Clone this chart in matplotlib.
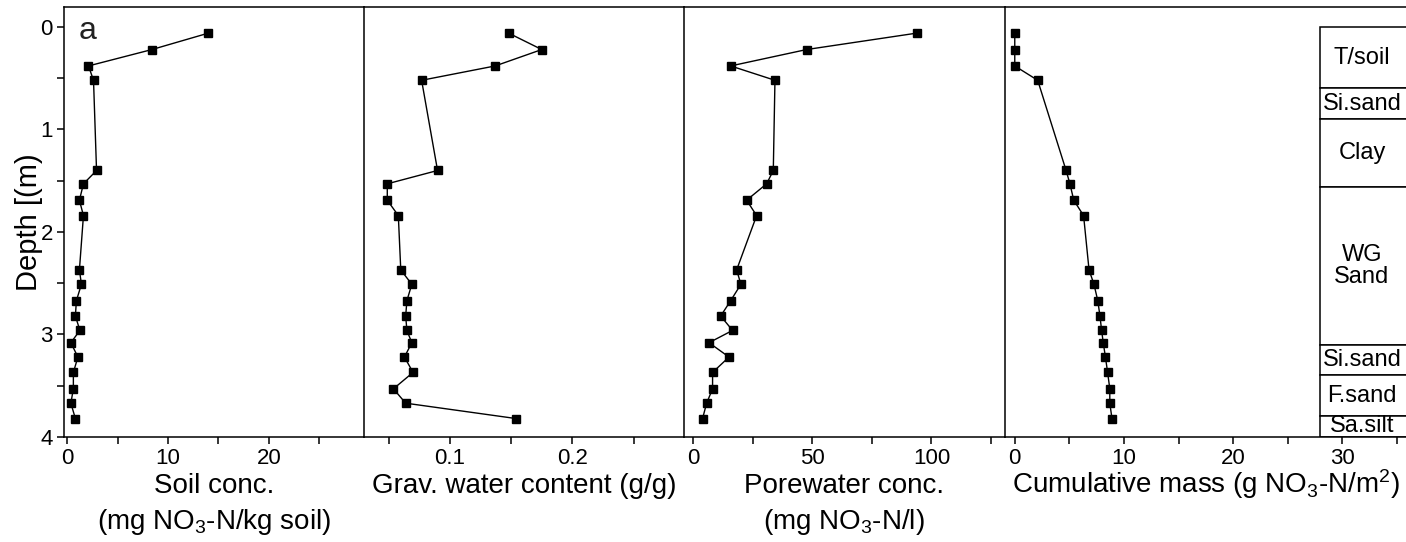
import matplotlib
matplotlib.use('Agg')
import matplotlib.pyplot as plt
from matplotlib.ticker import MultipleLocator, FuncFormatter
from matplotlib.patches import Rectangle

# ---- data ----
depth = [0.06, 0.22, 0.38, 0.52, 1.40, 1.53, 1.69, 1.84, 2.37, 2.51,
         2.67, 2.82, 2.96, 3.08, 3.22, 3.37, 3.53, 3.67, 3.82]
soil_conc = [14.0, 8.4, 2.1, 2.6, 2.9, 1.6, 1.2, 1.6, 1.2, 1.4,
             0.9, 0.8, 1.25, 0.35, 1.05, 0.6, 0.6, 0.35, 0.8]
grav_water = [0.148, 0.175, 0.137, 0.077, 0.090, 0.049, 0.049, 0.058, 0.060, 0.069,
              0.065, 0.064, 0.065, 0.069, 0.063, 0.070, 0.054, 0.064, 0.154]
porewater_conc = [93.8, 47.6, 15.7, 34.3, 33.6, 30.8, 22.4, 26.6, 18.2, 20.0,
                  15.7, 11.5, 16.5, 6.6, 15.0, 8.1, 8.1, 5.6, 3.9]
cum_mass = [0.0, 0.0, 0.0, 2.1, 4.7, 5.05, 5.4, 6.3, 6.8, 7.25,
            7.6, 7.8, 7.95, 8.1, 8.3, 8.5, 8.7, 8.7, 8.9]

layer_bounds = [0.0, 0.6, 0.9, 1.56, 3.1, 3.4, 3.8, 4.0]
layer_names = ['T/soil', 'Si.sand', 'Clay', 'WG\nSand', 'Si.sand', 'F.sand', 'Sa.silt']

xlabels = ['Soil conc.\n(mg NO$_3$-N/kg soil)',
           'Grav. water content (g/g)',
           'Porewater conc.\n(mg NO$_3$-N/l)',
           'Cumulative mass (g NO$_3$-N/m$^2$)']
series = [soil_conc, grav_water, porewater_conc, cum_mass]
xlims = [(-0.33, 29.4), (0.0296, 0.291), (-3.9, 130.7), (-0.94, 36.0)]
major = [10, 0.1, 50, 10]
minor = [5, 0.05, 25, 5]

plt.rcParams['font.family'] = ['Liberation Sans', 'DejaVu Sans']
plt.rcParams['mathtext.default'] = 'regular'

W, H = 1406, 542
fig = plt.figure(figsize=(W / 100, H / 100), dpi=100)

edges = [64, 363.5, 684, 1004.5, 1408]
bottom = 1 - 437 / H
height = (437 - 7) / H
lw = 1.1

axes = []
for i in range(4):
    ax = fig.add_axes([edges[i] / W, bottom, (edges[i + 1] - edges[i]) / W, height])
    axes.append(ax)
    ax.plot(series[i], depth, color='black', lw=1.0, marker='s', ms=6,
            mfc='black', mec='black', clip_on=False, zorder=3)
    ax.set_xlim(*xlims[i])
    ax.set_ylim(4.0, -0.195)
    ax.xaxis.set_major_locator(MultipleLocator(major[i]))
    ax.xaxis.set_minor_locator(MultipleLocator(minor[i]))
    ax.yaxis.set_major_locator(MultipleLocator(1))
    ax.yaxis.set_minor_locator(MultipleLocator(0.5))
    ax.tick_params(axis='both', which='both', direction='out', length=5,
                   width=lw, labelsize=16, pad=3)
    ax.spines['right'].set_visible(False)
    for s in ('left', 'top', 'bottom'):
        ax.spines[s].set_linewidth(lw)
    lab = ax.set_xlabel(xlabels[i], fontsize=20, linespacing=1.35)
    nlines = xlabels[i].count('\n')
    # baseline of the last line (first line baseline at y=493 px)
    ax.xaxis.set_label_coords(0.5, (437 - 493 - 36 * nlines) / 430)
    lab.set_verticalalignment('baseline')
    if i > 0:
        ax.tick_params(axis='y', which='both', left=False, labelleft=False)

axes[2].xaxis.set_major_formatter(FuncFormatter(lambda v, p: f'{v:.0f}'))
axes[0].set_ylabel('Depth [(m)', fontsize=21, labelpad=-2)
axes[0].text(0.05, 0.978, 'a', transform=axes[0].transAxes, fontsize=23,
             ha='left', va='top', color='#222222')

# lithology column
ax4 = axes[3]
tr = ax4.get_yaxis_transform()
col_x0 = 0.782
for top, bot, name in zip(layer_bounds[:-1], layer_bounds[1:], layer_names):
    ax4.add_patch(Rectangle((col_x0, top), 1.0, bot - top, transform=tr,
                            facecolor='white', edgecolor='black', lw=lw,
                            clip_on=True, zorder=2))
    if name == 'Sa.silt':
        ax4.text(0.886, top - 0.01, name, transform=tr, ha='center', va='top',
                 fontsize=17, clip_on=True, zorder=4)
    else:
        ax4.text(0.886, (top + bot) / 2, name, transform=tr, ha='center',
                 va='center', fontsize=17, linespacing=1.0, zorder=4)

fig.savefig('out.png', dpi=100)
